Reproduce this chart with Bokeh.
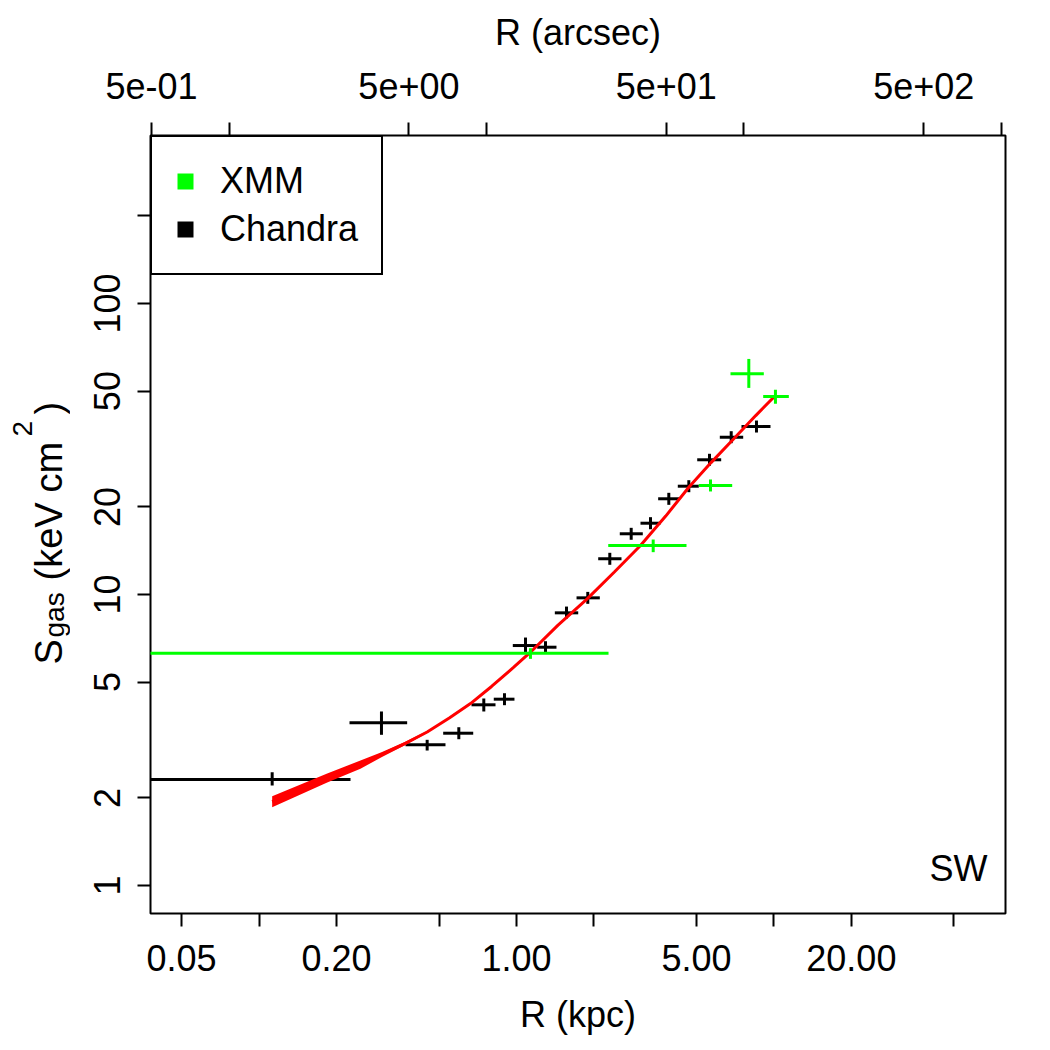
import numpy as np
from bokeh.plotting import figure
from bokeh.layouts import row
from bokeh.core.properties import value
from bokeh.models import (Range1d, LogScale, LogAxis, FixedTicker, Label,
                          Legend, LegendItem)
from bokeh.embed import file_html
from bokeh.resources import INLINE

# ---------------- data ----------------
KPC_PER_ARCSEC = 0.0764

# Chandra annuli (kpc) and entropy (keV cm^2)
ch_r = [0.1124, 0.2988, 0.4497, 0.5969, 0.7464, 0.898, 1.084, 1.296, 1.564,
        1.892, 2.304, 2.790, 3.316, 3.906, 4.672, 5.62, 6.826, 8.557]
ch_r_lo = [0.001, 0.2245, 0.3705, 0.519, 0.6686, 0.816, 0.9674, 1.203, 1.409,
           1.711, 2.077, 2.519, 3.032, 3.551, 4.233, 5.036, 6.164, 7.483]
ch_r_hi = [0.2265, 0.376, 0.5298, 0.679, 0.8288, 0.982, 1.203, 1.430, 1.737,
           2.107, 2.558, 3.095, 3.626, 4.309, 5.109, 6.241, 7.599, 9.700]
ch_s = [2.314, 3.624, 3.044, 3.337, 4.178, 4.368, 6.678, 6.59, 8.65,
        9.74, 13.27, 16.17, 17.58, 21.33, 23.56, 29.04, 34.71, 37.78]
ch_s_lo = [2.206, 3.295, 2.910, 3.182, 3.963, 4.165, 6.285, 6.285, 8.27,
           9.29, 12.65, 15.42, 16.76, 20.33, 22.47, 27.69, 33.11, 36.03]
ch_s_hi = [2.451, 3.963, 3.167, 3.499, 4.392, 4.579, 7.114, 6.91, 9.09,
           10.21, 13.91, 16.95, 18.44, 22.36, 24.71, 30.45, 36.41, 39.61]

# XMM annuli
xm_r = [1.133, 3.397, 5.672, 7.99, 10.14]
xm_r_lo = [0.001, 2.272, 5.109, 6.783, 9.087]
xm_r_hi = [2.278, 4.576, 6.887, 9.137, 11.43]
xm_s = [6.28, 14.74, 23.69, 57.33, 47.9]
xm_s_lo = [6.01, 13.98, 22.6, 51.29, 45.2]
xm_s_hi = [6.54, 15.45, 24.85, 64.5, 50.5]

# model profile with its uncertainty band
mod_r = [0.1124, 0.1839, 0.2476, 0.2988, 0.3700, 0.4497, 0.5500, 0.6627,
         0.8000, 0.976, 1.133, 1.450, 1.882, 2.400, 3.032, 3.800, 4.672,
         5.700, 6.986, 8.500, 10.14]
mod_s = [1.941, 2.341, 2.605, 2.816, 3.08, 3.37, 3.77, 4.22,
         4.83, 5.627, 6.335, 7.85, 9.665, 11.95, 14.74, 18.6, 23.37,
         28.4, 34.28, 41.2, 48.3]
mod_lo = [1.857, 2.259, 2.518, 2.760, 3.04, 3.345, 3.76, 4.21,
          4.82, 5.617, 6.325, 7.84, 9.65, 11.93, 14.72, 18.57, 23.33,
          28.36, 34.22, 41.13, 48.22]
mod_hi = [2.027, 2.426, 2.689, 2.871, 3.12, 3.395, 3.78, 4.23,
          4.84, 5.637, 6.345, 7.86, 9.68, 11.97, 14.76, 18.63, 23.41,
          28.44, 34.34, 41.27, 48.38]

# axes
X_RANGE = (0.03785, 79.4)
Y_RANGE = (0.8013, 377.9)
bottom_ticks = [0.05, 0.1, 0.2, 0.5, 1, 2, 5, 10, 20, 50]
bottom_labels = ["0.05", "", "0.20", "", "1.00", "", "5.00", "", "20.00", ""]
top_ticks = [0.5, 1, 5, 10, 50, 100, 500, 1000]
top_labels = ["5e-01", "", "5e+00", "", "5e+01", "", "5e+02", ""]
left_ticks = [1, 2, 5, 10, 20, 50, 100, 200]
left_labels = ["1", "2", "5", "10", "20", "50", "100", ""]

FONT = "Liberation Sans"
FS = "36px"
GREEN = "#00FF00"
LABEL_W = 70
BORDER_TOP = 135
BORDER_BOTTOM = 137
H = 1050

# ---------------- main figure ----------------
p = figure(width=1050 - LABEL_W, height=H, x_axis_type="log", y_axis_type="log",
           x_range=Range1d(*X_RANGE), y_range=Range1d(*Y_RANGE),
           output_backend="svg", toolbar_location=None,
           min_border_left=150 - LABEL_W, min_border_right=45,
           min_border_top=BORDER_TOP, min_border_bottom=BORDER_BOTTOM)
p.xgrid.visible = False
p.ygrid.visible = False
p.background_fill_color = "white"
p.border_fill_color = "white"
p.outline_line_color = "black"
p.outline_line_width = 2
p.outline_line_alpha = 1

p.extra_x_ranges = {"arcsec": Range1d(X_RANGE[0] / KPC_PER_ARCSEC,
                                      X_RANGE[1] / KPC_PER_ARCSEC)}
p.extra_x_scales = {"arcsec": LogScale()}
top_axis = LogAxis(x_range_name="arcsec")
p.add_layout(top_axis, "above")


def style_axis(ax, ticks, labels):
    ax.ticker = FixedTicker(ticks=ticks, minor_ticks=[])
    ax.major_label_overrides = {t: l for t, l in zip(ticks, labels)}
    ax.major_tick_out = 13
    ax.major_tick_in = 0
    ax.minor_tick_out = 0
    ax.minor_tick_in = 0
    ax.major_tick_line_width = 2
    ax.major_tick_line_color = "black"
    ax.axis_line_color = None
    ax.major_label_text_font = FONT
    ax.major_label_text_font_size = FS
    ax.major_label_text_color = "black"
    ax.axis_label_text_font = FONT
    ax.axis_label_text_font_size = FS
    ax.axis_label_text_font_style = "normal"
    ax.axis_label_text_color = "black"


bottom_axis = p.below[0]
left_axis = p.left[0]
style_axis(bottom_axis, bottom_ticks, bottom_labels)
style_axis(top_axis, top_ticks, top_labels)
style_axis(left_axis, left_ticks, left_labels)
bottom_axis.axis_label = "R (kpc)"
bottom_axis.major_label_standoff = 18
bottom_axis.axis_label_standoff = 20
top_axis.axis_label = "R (arcsec)"
top_axis.major_label_standoff = 24
top_axis.axis_label_standoff = 17
left_axis.major_label_orientation = "parallel"
left_axis.major_label_standoff = 17

# ---------------- marks ----------------
# Chandra error crosses
p.segment(x0=ch_r_lo, x1=ch_r_hi, y0=ch_s, y1=ch_s, line_color="black", line_width=3)
p.segment(x0=ch_r, x1=ch_r, y0=ch_s_lo, y1=ch_s_hi, line_color="black", line_width=3)

# model band + line
p.varea(x=mod_r, y1=mod_lo, y2=mod_hi, fill_color="red", fill_alpha=1)
p.line(x=mod_r, y=mod_s, line_color="red", line_width=3)

# XMM error crosses
p.segment(x0=xm_r_lo, x1=xm_r_hi, y0=xm_s, y1=xm_s, line_color=GREEN, line_width=3)
p.segment(x0=xm_r, x1=xm_r, y0=xm_s_lo, y1=xm_s_hi, line_color=GREEN, line_width=3)

# legend proxies (no visible data)
nan = [float("nan")]
r_xmm = p.quad(left=nan, right=nan, top=nan, bottom=nan, fill_color=GREEN, line_color=None)
r_cha = p.quad(left=nan, right=nan, top=nan, bottom=nan, fill_color="black", line_color=None)
legend = Legend(items=[LegendItem(label="XMM", renderers=[r_xmm]),
                       LegendItem(label="Chandra", renderers=[r_cha])],
                location="top_left", margin=0, padding=23, spacing=6,
                glyph_width=20, glyph_height=20, label_standoff=25,
                label_height=40, label_text_font=FONT, label_text_font_size=FS,
                label_text_color="black",
                border_line_color="black", border_line_width=2, border_line_alpha=1,
                background_fill_color="white", background_fill_alpha=1)
p.add_layout(legend)

p.add_layout(Label(x=10 ** ((987 - 516) / 257.4), y=10 ** ((885 - 868) / 291),
                   text="SW", text_font=FONT, text_font_size=FS, text_color="black",
                   text_align="right", text_baseline="middle"))

# ---------------- y-axis title panel ----------------
# its frame is aligned with the main frame by the row layout, so the y range
# spans the page rows of that frame (page y measured upward from the bottom)
q = figure(width=LABEL_W, height=H, x_range=Range1d(0, LABEL_W),
           y_range=Range1d(BORDER_BOTTOM, H - BORDER_TOP),
           output_backend="svg", toolbar_location=None,
           min_border_left=0, min_border_right=0,
           min_border_top=BORDER_TOP, min_border_bottom=BORDER_BOTTOM)
q.axis.visible = False
q.grid.visible = False
q.outline_line_color = None
q.background_fill_color = "white"
q.border_fill_color = "white"

ylab_text = ["S", "gas", "(keV", "cm", "2", ")"]
ylab_bx = [48, 54, 48, 48, 22, 48]
ylab_by = [664, 637, 580, 492, 436, 414]
ylab_size = ["38px", "28px", "38px", "38px", "28px", "38px"]
for t, bx, by, fs in zip(ylab_text, ylab_bx, ylab_by, ylab_size):
    q.text(x=[bx], y=[H - by], text=[t], angle=np.pi / 2,
           text_font=value(FONT), text_font_size=value(fs), text_color="black",
           text_align="left", text_baseline="alphabetic")

layout = row(q, p, spacing=0)
open("out.html", "w").write(file_html(layout, INLINE))
